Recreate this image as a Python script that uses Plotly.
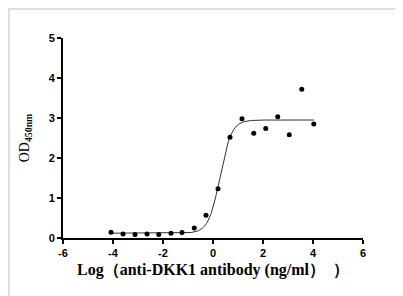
import numpy as np
import plotly.graph_objects as go

# Data (log concentration, OD450)
log_conc = [-4.08, -3.6, -3.12, -2.64, -2.17, -1.68, -1.24, -0.75, -0.28, 0.2,
            0.68, 1.16, 1.63, 2.11, 2.59, 3.05, 3.55, 4.03]
od450 = [0.145, 0.10, 0.09, 0.10, 0.09, 0.12, 0.14, 0.25, 0.57, 1.23,
         2.52, 2.98, 2.62, 2.74, 3.03, 2.58, 3.72, 2.85]

# 4PL fit parameters
bottom, top, logec50, hill = 0.12, 2.95, 0.28, 1.9

x_ticks = [-6, -4, -2, 0, 2, 4, 6]
y_ticks = [0, 1, 2, 3, 4, 5]

xf = np.linspace(min(log_conc), max(log_conc), 300)
yf = bottom + (top - bottom) / (1 + 10 ** ((logec50 - xf) * hill))

fig = go.Figure()
fig.add_trace(go.Scatter(x=xf, y=yf, mode="lines",
                         line=dict(color="#333333", width=1), hoverinfo="skip"))
fig.add_trace(go.Scatter(x=log_conc, y=od450, mode="markers",
                         marker=dict(color="black", size=5)))

# page is offset by 8px body margin
W, H = 395, 288
L, R, T, B = 55, 40, 30, 57.5
pw, ph = W - L - R, H - T - B

def px(x):
    return (x - L) / pw

def py(y):
    return (H - B - y) / ph

fig.add_shape(type="rect", xref="paper", yref="paper",
              x0=px(1), x1=px(393.5), y0=py(300), y1=py(1),
              line=dict(color="#dedede", width=2), fillcolor="rgba(0,0,0,0)")

axis_font = dict(family="Liberation Sans, Arial", size=11, color="black")
fig.update_layout(
    width=W, height=H, margin=dict(l=L, r=R, t=T, b=B),
    paper_bgcolor="white", plot_bgcolor="white", showlegend=False,
    xaxis=dict(range=[-6, 6], tickvals=x_ticks, ticktext=[f"<b>{v}</b>" for v in x_ticks],
               showgrid=False, zeroline=False, showline=True, linecolor="black",
               linewidth=2, ticks="outside", ticklen=4, tickwidth=2, tickcolor="black",
               tickfont=axis_font,
               title=dict(text="<b>Log（anti-DKK1 antibody (ng/ml）  ）</b>",
                          font=dict(family="Liberation Serif, Times New Roman, serif",
                                    size=16, color="black"), standoff=6)),
    yaxis=dict(range=[0, 5], tickvals=y_ticks, ticktext=[f"<b>{v}</b>" for v in y_ticks],
               showgrid=False, zeroline=False, showline=True, linecolor="black",
               linewidth=2, ticks="outside", ticklen=4, tickwidth=2, tickcolor="black",
               tickfont=axis_font,
               title=dict(text="OD<sub><b>450nm</b></sub>",
                          font=dict(family="Liberation Serif, Times New Roman, serif",
                                    size=14, color="black"), standoff=16)),
)

fig.write_html("out.html")
